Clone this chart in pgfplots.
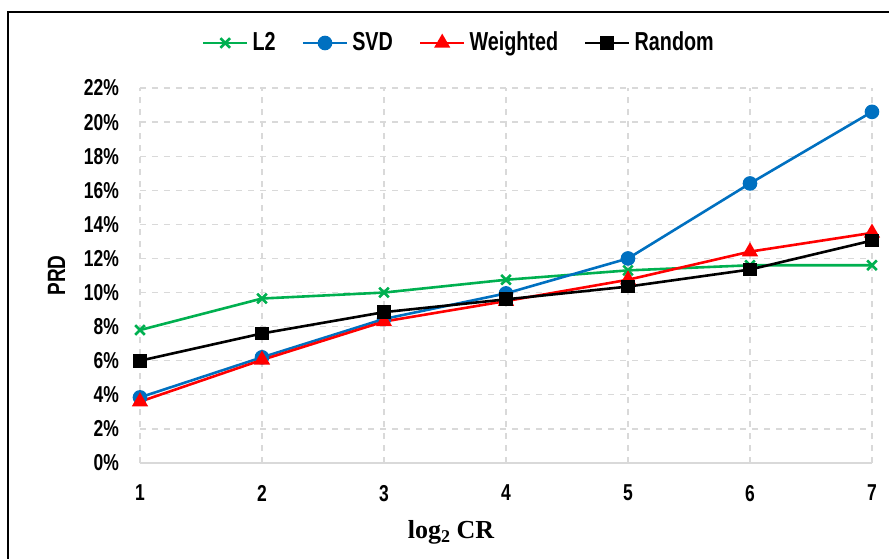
\documentclass[border=0pt]{standalone}
\usepackage{fontspec}
\setmainfont{Liberation Sans}[FakeStretch=0.76]
\newfontfamily\serifbold{Liberation Serif}
\usepackage{pgfplots}
\pgfplotsset{compat=1.18}

\definecolor{xlgreen}{RGB}{0,176,80}
\definecolor{xlblue}{RGB}{0,112,192}
\definecolor{xlred}{RGB}{255,0,0}
\definecolor{gridgray}{RGB}{217,217,217}

\begin{document}
\begin{tikzpicture}
\begin{axis}[
    at={(0pt,0pt)}, anchor=south west,
    scale only axis,
    width=366pt, height=187.5pt,
    xmin=1, xmax=7, ymin=0, ymax=22,
    xtick={1,2,3,4,5,6,7},
    ytick={0,2,4,6,8,10,12,14,16,18,20,22},
    yticklabel={\pgfmathprintnumber{\tick}\%},
    /pgf/number format/assume math mode=true,
    ticklabel style={font=\fontsize{11.5}{13}\selectfont\bfseries},
    major tick length=0pt,
    xticklabel style={yshift=-7.5pt},
    yticklabel style={xshift=-7pt},
    xmajorgrids, ymajorgrids,
    grid style={dashed, gridgray, line width=0.6pt},
    axis x line*=bottom,
    axis y line*=left,
    x axis line style={gridgray, line width=0.8pt},
    y axis line style={white, opacity=0},
    xlabel={\serifbold\bfseries log\raisebox{-0.35ex}{\fontsize{9}{10}\selectfont 2} CR},
    xlabel style={font=\fontsize{13}{15}\selectfont, yshift=-2.5pt, xshift=-27.5pt},
    ylabel={PRD},
    ylabel style={font=\fontsize{12.5}{14}\selectfont\bfseries, yshift=2.5pt},
    legend columns=4,
    legend style={draw=none, fill=none, at={(0.437,1.12)}, anchor=center,
        font=\fontsize{13}{15}\selectfont\bfseries,
        /tikz/every even column/.append style={column sep=11pt}},
    legend cell align=left,
    legend image code/.code={%
        \draw[mark repeat=2,mark phase=2] plot coordinates {(0pt,0pt) (11pt,0pt) (22pt,0pt)};%
    },
]
\addplot[xlgreen, line width=1.3pt, mark=x, mark size=3.4pt] coordinates {
(1,7.8)(2,9.65)(3,10.0)(4,10.75)(5,11.3)(6,11.6)(7,11.6)};
\addplot[xlblue, line width=1.3pt, mark=*, mark size=3pt] coordinates {
(1,3.85)(2,6.2)(3,8.45)(4,9.95)(5,12.0)(6,16.4)(7,20.6)};
\addplot[xlred, line width=1.3pt, mark=triangle*, mark size=3.4pt] coordinates {
(1,3.6)(2,6.05)(3,8.3)(4,9.5)(5,10.75)(6,12.4)(7,13.5)};
\addplot[black, line width=1.3pt, mark=square*, mark size=2.8pt] coordinates {
(1,6.0)(2,7.6)(3,8.85)(4,9.6)(5,10.35)(6,11.35)(7,13.05)};
\legend{L2, SVD, Weighted, Random}
\end{axis}
\pgfresetboundingbox
\path (-70pt,-47.5pt) rectangle (374.5pt,231.5pt);
\begin{scope}
\clip (-70pt,-47.5pt) rectangle (374.5pt,231.5pt);
\draw[black, line width=1.2pt] (-66pt,-60pt) rectangle (380pt,225.5pt);
\end{scope}
\end{tikzpicture}
\end{document}
